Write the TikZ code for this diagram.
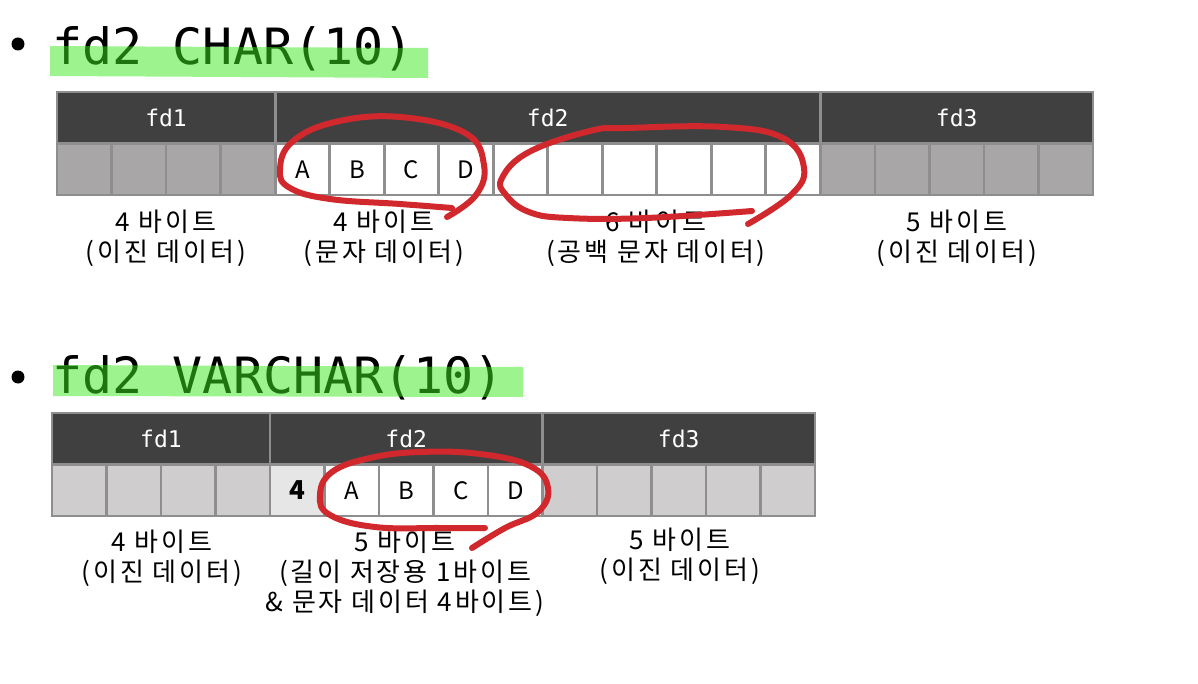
\documentclass[tikz,border=0pt]{standalone}
\usepackage{fontspec}
\setmainfont{Noto Sans CJK KR}[LetterSpace=11]
\newfontfamily\lettrefont{Noto Sans CJK KR}
\newfontfamily\codefont{DejaVu Sans Mono}
\usetikzlibrary{positioning}
\definecolor{entete}{HTML}{404040}
\definecolor{bordure}{HTML}{8E8E8E}
\definecolor{grisfonce}{HTML}{A8A6A7}
\definecolor{grisclair}{HTML}{CFCDCE}
\definecolor{longueur}{HTML}{E6E6E6}
\definecolor{surligne}{RGB}{61,235,33}
\definecolor{stylo}{HTML}{D0282C}
\begin{document}
\begin{tikzpicture}[x=0.5pt, y=-0.5pt,
	tete/.style={draw=bordure, line width=1.4pt, fill=entete, text=white, minimum height=25.75pt, inner sep=0pt, font=\codefont\fontsize{11.5}{13}\selectfont},
	case/.style={draw=bordure, line width=1.4pt, minimum width=27.26pt, minimum height=25.75pt, inner sep=0pt, font=\lettrefont\fontsize{12}{14}\selectfont},
	legende/.style={align=center, inner sep=0pt, font=\fontsize{13}{15}\selectfont},
	titre/.style={anchor=base west, inner sep=0pt, font=\codefont\fontsize{25}{30}\selectfont},
	trait/.style={stylo, line width=3pt, line cap=round, line join=round}]
	\useasboundingbox[fill=white] (0,0) rectangle (1198,684);
	%Titres
	\fill (18,44) circle (6.5);
	\node[titre] (tA) at (52,65) {fd2 CHAR(10)};
	\fill[surligne, opacity=0.5] (50,46) -- (428,48) -- (428,78) -- (50,76) -- cycle;
	\fill (18,377) circle (6.5);
	\node[titre] (tB) at (52,393) {fd2 VARCHAR(10)};
	\fill[surligne, opacity=0.5] (53,365) -- (523,367) -- (523,397) -- (53,396) -- cycle;
	
	%Premier enregistrement : CHAR
	\foreach \i in {0,...,3}
		\node[case, fill=grisfonce] (cA\i) at ({57+54.526*(\i+0.5)},169.25) {};
	\foreach \c [count=\i from 4] in {A,B,C,D}
		\node[case, fill=white] (cA\i) at ({57+54.526*(\i+0.5)},169.25) {\c};
	\foreach \i in {8,...,13}
		\node[case, fill=white] (cA\i) at ({57+54.526*(\i+0.5)},169.25) {};
	\foreach \i in {14,...,18}
		\node[case, fill=grisfonce] (cA\i) at ({57+54.526*(\i+0.5)},169.25) {};
	\node[tete, minimum width=109.05pt] (hA1) at (166.05,117.75) {fd1};
	\node[tete, minimum width=272.63pt] (hA2) at (547.75,117.75) {fd2};
	\node[tete, minimum width=136.3pt] (hA3) at (956.7,117.75) {fd3};
	
	\node[legende] (lA1) at (166,238) {4 바이트\\(이진 데이터)};
	\node[legende] (lA2) at (384,238) {4 바이트\\(문자 데이터)};
	\node[legende] (lA3) at (656,238) {6 바이트\\(공백 문자 데이터)};
	\node[legende] (lA4) at (957,238) {5 바이트\\(이진 데이터)};
	
	%Second enregistrement : VARCHAR
	\foreach \i in {0,...,3}
		\node[case, fill=grisclair] (cB\i) at ({52+54.5*(\i+0.5)},490.25) {};
	\node[case, fill=longueur, font=\lettrefont\bfseries\fontsize{13}{14}\selectfont] (cB4) at ({52+54.5*4.5},490.25) {4};
	\foreach \c [count=\i from 5] in {A,B,C,D}
		\node[case, fill=white] (cB\i) at ({52+54.5*(\i+0.5)},490.25) {\c};
	\foreach \i in {9,...,13}
		\node[case, fill=grisclair] (cB\i) at ({52+54.5*(\i+0.5)},490.25) {};
	\node[tete, minimum width=109pt] (hB1) at (161,438.75) {fd1};
	\node[tete, minimum width=136.25pt] (hB2) at (406.25,438.75) {fd2};
	\node[tete, minimum width=136.25pt] (hB3) at (678.75,438.75) {fd3};
	
	\node[legende] (lB1) at (162,558) {4 바이트\\(이진 데이터)};
	\node[legende] (lB2) at (405,573) {5 바이트\\(길이 저장용 1바이트\\\& 문자 데이터 4바이트)};
	\node[legende] (lB3) at (680,556) {5 바이트\\(이진 데이터)};
	
	%Annotations a main levee
	\draw[trait] plot[smooth, tension=0.7] coordinates {(452,208) (400,204) (330,199) (290,188) (280,170) (292,142) (335,122) (400,117) (465,133) (484,165) (476,195) (447,217)};
	\draw[trait] plot[smooth, tension=0.7] coordinates {(752,211) (646,218) (568,218) (529,212) (506,195) (502,178) (529,152) (590,131) (627,128) (724,127) (783,138) (804,168) (791,195) (748,224)};
	\draw[trait] plot[smooth, tension=0.7] coordinates {(485,528) (440,528) (375,527) (330,515) (320,495) (332,472) (370,458) (420,452) (480,454) (530,466) (548,488) (538,512) (505,528) (472,548)};
\end{tikzpicture}
\end{document}
